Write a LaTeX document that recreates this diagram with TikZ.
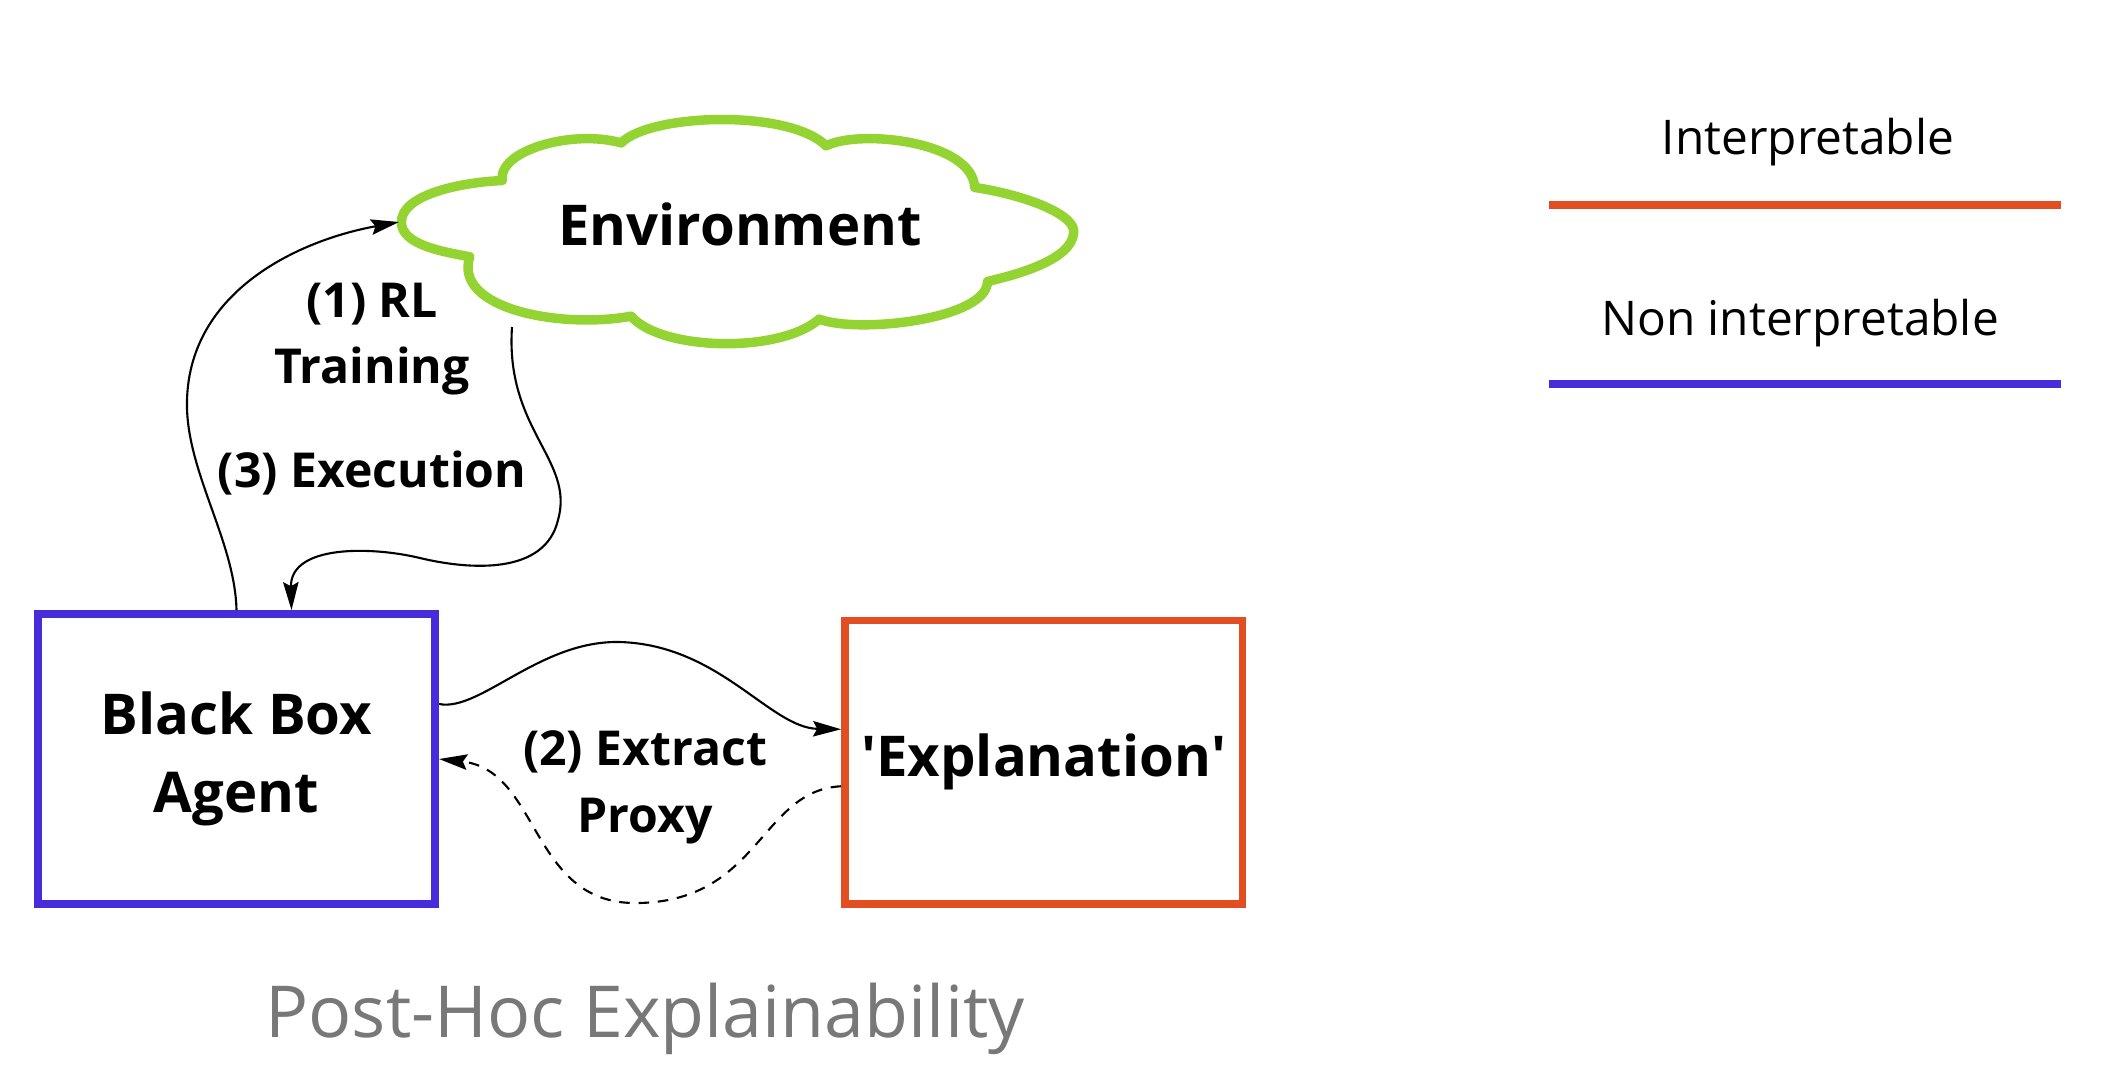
\documentclass[tikz,border=0pt]{standalone}
\usepackage{fontspec}
\setmainfont{Open Sans}
\usetikzlibrary{arrows.meta,calc}
\definecolor{envgreen}{RGB}{148,212,50}
\definecolor{agentblue}{RGB}{70,44,218}
\definecolor{explorange}{RGB}{226,78,34}
\definecolor{titlegray}{RGB}{120,120,120}
\begin{document}
\begin{tikzpicture}[x=0.1mm,y=-0.1mm,
  box/.style={draw, line width=2.2pt, minimum width=39.75mm, minimum height=29mm, align=center, font=\fontsize{16}{22}\selectfont\bfseries, inner sep=0pt},
  lbl/.style={align=center, font=\fontsize{13.7}{19}\selectfont\bfseries, inner sep=0pt},
  conn/.style={line width=0.6pt, -{Stealth[length=8pt,width=4.4pt,inset=1.2pt]}},
  legline/.style={line width=2.2pt},
  legtxt/.style={font=\fontsize{13.6}{18}\selectfont, inner sep=0pt}]
\useasboundingbox (0,0) rectangle (2103,1066);

% cloud
\draw[draw=envgreen, line width=2.7pt, line join=round, scale around={0.99:(739,230)}]
  (467,257) .. controls (440,252) and (398,245) .. (398,222)
            .. controls (398,195) and (455,182) .. (500,180)
            .. controls (495,150) and (570,128) .. (620,142)
            .. controls (650,112) and (790,108) .. (827,145)
            .. controls (860,128) and (975,140) .. (977,187)
            .. controls (1030,195) and (1080,215) .. (1077,233)
            .. controls (1075,260) and (1020,275) .. (990,282)
            .. controls (990,320) and (860,335) .. (820,320)
            .. controls (780,355) and (660,352) .. (630,317)
            .. controls (560,330) and (450,310) .. cycle;
\node[font=\fontsize{16}{22}\selectfont\bfseries, inner sep=0pt] (env) at (740,224) {Environment};
\coordinate (envL) at (399,222);
\coordinate (envB) at (512,327);

\node[box, draw=agentblue] (bb) at (236.5,759) {Black Box\\Agent};
\node[box, draw=explorange, minimum height=28.35mm] (ex) at (1043.75,762.25) {\textquotesingle Explanation\textquotesingle};

\node[lbl] (l1) at (372,339) {(1) RL\\Training};
\node[lbl] (l3) at (372,473) {(3) Execution};
\node[lbl] (l2) at (645,787) {(2) Extract\\Proxy};

% (1) RL training
\draw[conn] (bb.north) .. controls (235,540) and (185,470) .. (187,400)
            .. controls (190,290) and (300,240) .. (envL);
% (3) Execution
\draw[conn] (envB) .. controls (505,430) and (575,460) .. (558,520)
            .. controls (545,575) and (470,570) .. (420,558)
            .. controls (370,546) and (290,545) .. ($(bb.north)+(55,0)$);
% (2) Extract proxy
\draw[conn] ($(bb.east)+(0,-55)$) .. controls (480,712) and (540,640) .. (620,642)
            .. controls (720,645) and (770,728) .. ($(ex.west)+(0,-33)$);
\draw[conn, dash pattern=on 3pt off 2.5pt] ($(ex.west)+(0,24)$) .. controls (760,790) and (760,903) .. (635,903)
            .. controls (530,903) and (540,770) .. (bb.east);

% legend
\node[legtxt] (li) at (1808,142) {Interpretable};
\coordinate (o1) at (1549,205);
\coordinate (o2) at (2061,205);
\draw[legline, draw=explorange] (o1) -- (o2);
\node[legtxt] (ln) at (1800,323) {Non interpretable};
\coordinate (b1) at (1549,384);
\coordinate (b2) at (2061,384);
\draw[legline, draw=agentblue] (b1) -- (b2);

\node[font=\fontsize{20.4}{26}\selectfont, text=titlegray, inner sep=0pt] (title) at (645,1019) {Post-Hoc Explainability};
\end{tikzpicture}
\end{document}
